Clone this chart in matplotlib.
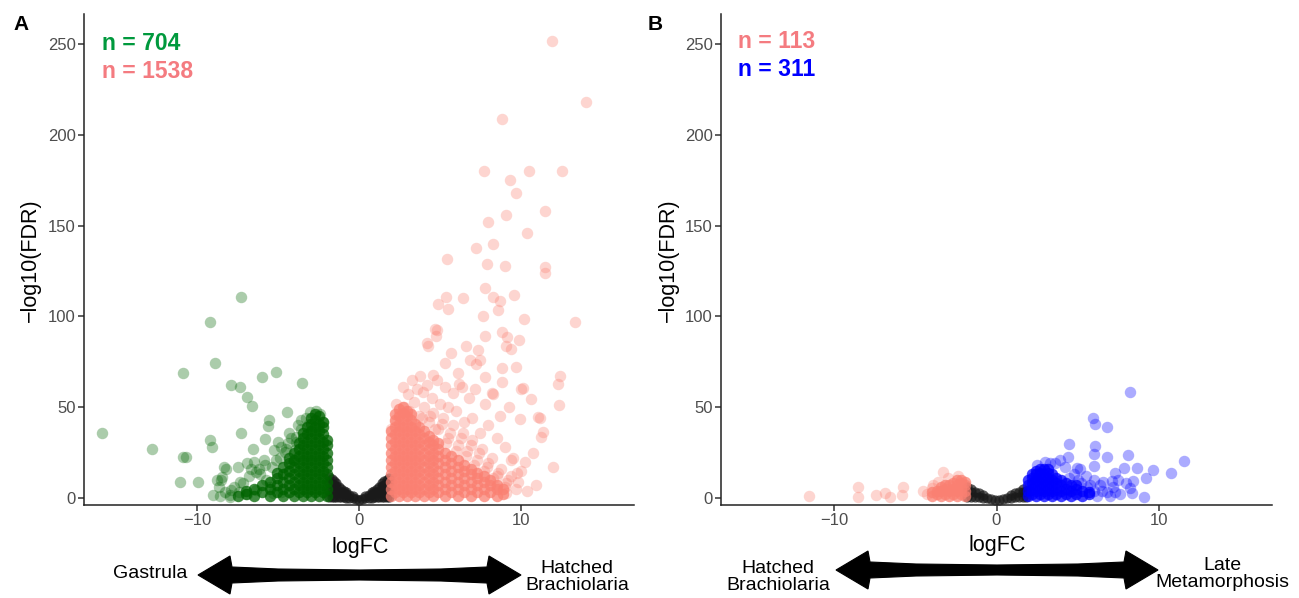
import matplotlib
matplotlib.use("Agg")
import matplotlib.pyplot as plt
from matplotlib.patches import Polygon

plt.rcParams['font.family'] = ['Liberation Sans', 'DejaVu Sans']

W, H = 1299, 598

# ================= Panel A: Gastrula vs Hatched Brachiolaria =================
# dense core of down-regulated (green) genes: column x and the y values in it
A_down_core_x = [-1.95, -2.2, -2.45, -2.7, -2.95, -3.2, -3.45, -3.7, -4.0, -4.3, -4.7, -5.1,
                 -5.5, -6.0, -6.5, -7.0, -7.5]
A_down_core_y = [
    [1, 5, 9, 13, 17, 21, 25, 29, 32],
    [3, 7, 11, 15, 19, 23, 27, 31, 35, 39, 42],
    [1, 5, 9, 13, 17, 21, 25, 29, 33, 37, 41, 45],
    [3, 7, 11, 15, 19, 23, 27, 31, 35, 39, 43, 46],
    [1, 5, 9, 13, 17, 21, 25, 29, 33, 37, 41, 44],
    [3, 7, 11, 15, 19, 23, 27, 31, 35, 39],
    [1, 5, 9, 13, 17, 21, 25, 29, 33, 36],
    [3, 7, 11, 15, 19, 23, 27, 30],
    [1, 5, 9, 13, 17, 21, 25],
    [3, 7, 11, 15, 19, 22],
    [1, 5, 9, 13, 17],
    [3, 7, 11, 14],
    [1, 5, 9],
    [3, 7],
    [1, 5],
    [2, 4],
    [1],
]
# scattered down-regulated genes
A_down_x = [-7.29, -9.21, -8.9, -10.89, -5.11, -5.97, -7.93, -7.38, -3.52, -6.91, -6.6, -4.47,
            -5.54, -5.61, -3.0, -2.65, -15.9, -12.78, -9.21, -9.09, -7.29, -10.89, -10.67, -6.56,
            -11.05, -9.94, -8.33, -7.5, -6.91, -8.8, -9.04, -7.98, -8.45, -5.8, -5.26, -8.65,
            -8.24, -8.54, -8.0, -6.35, -5.73, -6.35, -7.38, -7.9, -5.0, -5.11, -4.6, -4.08,
            -4.49, -4.8, -5.32, -3.87, -3.77, -3.98, -3.56, -4.8, -4.2, -3.3, -6.2, -6.8,
            -7.2, -5.8, -4.4, -6.5, -7.7, -8.3, -8.6, -3.1, -2.4, -2.2, -5.5, -6.9, -7.4,
            -4.9, -5.4, -6.1, -4.5, -3.9, -4.3, -5.9, -6.7, -3.6]
A_down_y = [110.6, 97, 74.5, 68.7, 69.4, 66.8, 62, 61, 63.2, 55.8, 50.7, 47.2,
            43, 39.8, 47.5, 47.9, 35.6, 27, 32, 28.3, 35.6, 22.4, 22.4, 26.8,
            9, 9, 17.2, 17.2, 19.1, 9.9, 1.7, 1.7, 11.7, 32.3, 26.4, 5.9,
            15.8, 9.9, 0.7, 14.5, 9.9, 4.4, 9, 4.4, 31, 20.9, 25.5, 20,
            13.6, 3.5, 2.6, 33.8, 40.2, 26.4, 43, 28, 33, 44, 16, 12,
            8, 18, 30, 20, 6, 3, 1, 41, 46, 42, 6, 2, 3,
            22, 17, 13, 27, 31, 36, 21, 16, 38]

# dense core of up-regulated (salmon) genes
A_up_core_x = [1.95, 2.2, 2.45, 2.7, 2.95, 3.2, 3.45, 3.7, 4.0, 4.3, 4.6, 4.9, 5.3, 5.7,
               6.1, 6.5, 6.9, 7.3, 7.7, 8.1, 8.5, 8.9]
A_up_core_y = [
    [1, 5, 9, 13, 17, 21, 25, 29, 33, 37],
    [3, 7, 11, 15, 19, 23, 27, 31, 35, 39, 43, 46],
    [1, 5, 9, 13, 17, 21, 25, 29, 33, 37, 41, 45, 49],
    [3, 7, 11, 15, 19, 23, 27, 31, 35, 39, 43, 47, 50],
    [1, 5, 9, 13, 17, 21, 25, 29, 33, 37, 41, 45, 48],
    [3, 7, 11, 15, 19, 23, 27, 31, 35, 39, 43, 46],
    [1, 5, 9, 13, 17, 21, 25, 29, 33, 37, 41],
    [3, 7, 11, 15, 19, 23, 27, 31, 35, 39],
    [1, 5, 9, 13, 17, 21, 25, 29, 33, 37],
    [3, 7, 11, 15, 19, 23, 27, 31, 34],
    [1, 5, 9, 13, 17, 21, 25, 29, 32],
    [3, 7, 11, 15, 19, 23, 27, 30],
    [1, 5, 9, 13, 17, 21, 25],
    [3, 7, 11, 15, 19, 23],
    [1, 5, 9, 13, 17, 21],
    [3, 7, 11, 15, 18],
    [1, 5, 9, 13, 16],
    [3, 7, 11, 14],
    [1, 5, 9, 12],
    [3, 7, 10],
    [1, 5, 7],
    [2, 5],
]
# scattered up-regulated genes
A_up_x = [11.9, 14.06, 8.84, 7.73, 10.5, 12.55, 9.34, 9.73, 11.48, 9.11, 8.0, 10.39,
          7.22, 8.31, 5.42, 7.9, 9.01, 11.48, 11.48, 5.4, 6.43, 4.89, 5.53, 7.77,
          8.29, 8.7, 8.58, 9.59, 7.67, 10.19, 13.34, 4.72, 4.74, 4.27, 7.77, 8.87,
          9.15, 9.9, 9.11, 9.42, 6.64, 5.71, 7.38, 5.3, 6.85, 7.26, 8.87, 9.73,
          3.75, 4.58, 6.12, 7.77, 8.87, 12.41, 12.3, 5.3, 6.39, 3.96, 10.0, 8.29,
          10.66, 12.35, 9.94, 11.18, 11.28, 12.0, 10.93, 10.76, 10.25, 11.38, 4.21, 4.8,
          9.42, 9.77, 9.06, 8.48, 11.07, 10.13, 7.45,
          2.0, 2.2, 2.5, 2.8, 2.3, 3.1, 3.4, 3.7, 4.0, 4.3, 4.6, 4.9,
          5.2, 5.5, 5.8, 6.1, 6.4, 6.7, 7.0, 7.3, 7.6, 7.9, 8.2, 8.5,
          8.8, 9.1, 9.4, 9.7, 5.0, 6.0, 7.0, 8.0, 8.5, 9.0, 7.5, 6.5,
          5.5, 4.5, 3.0, 3.6, 4.2, 9.5, 10.0, 8.7, 7.8, 6.8, 5.8, 4.8,
          6.2, 7.2, 8.2, 9.3, 3.3, 2.7,
          4.4, 5.1, 5.6, 6.3, 6.9, 7.4, 8.0, 8.6, 9.2, 3.9, 4.7, 5.4,
          6.0, 6.6, 7.1, 7.7, 8.3, 9.0, 9.8, 10.4]
A_up_y = [252, 218, 209, 180, 180, 180, 175, 168, 158, 156, 152, 146,
          138, 140, 131.5, 129, 128, 127, 124, 111, 110, 107, 104, 115.5,
          111, 108.7, 103.6, 111.7, 100, 98.8, 97, 93, 89, 84, 89, 91.6,
          88.9, 87, 83.7, 81.9, 83.7, 79.7, 81.5, 74.5, 76, 74, 71.8, 72.3,
          67, 67.8, 68.7, 66.8, 64, 67, 63, 61.3, 61.3, 58.6, 59.9, 57.3,
          54.4, 51.2, 43.4, 43.9, 33.8, 17.2, 7.2, 24.6, 20, 36.5, 85.2, 92.6,
          20.9, 13.6, 2.6, 6.2, 44.8, 60.4, 76,
          38, 42, 46, 50, 52, 48, 53, 45, 50, 42, 47, 38,
          44, 33, 40, 29, 36, 26, 32, 21, 27, 17, 22, 12,
          16, 8, 12, 5, 52, 48, 44, 40, 33, 28, 36, 42,
          50, 55, 57, 60, 62, 22, 15, 45, 52, 55, 58, 65,
          63, 60, 58, 50, 65, 61,
          45, 41, 36, 33, 29, 25, 19, 14, 10, 44, 38, 30,
          26, 23, 18, 15, 11, 6, 9, 4]

# non-significant genes (grey V)
A_ns_x = [-1.85, -1.7, -1.55, -1.4, -1.25, -1.1, -0.95, -0.8, -0.6, -0.4, -0.2, 0.0,
          0.2, 0.4, 0.6, 0.8, 0.95, 1.1, 1.25, 1.4, 1.55, 1.7, 1.85]
A_ns_y = [
    [0.5, 4, 8, 11.5], [0.5, 4, 7.5, 10.5], [0.5, 3.5, 7, 9.5], [0.5, 3.5, 6.5, 8],
    [0.5, 3, 6], [0.3, 3, 5], [0.3, 2.5, 4], [0, 2, 3], [0, 1.5], [-0.3, 0.8], [-0.6],
    [-0.9], [-0.6], [-0.3, 0.8], [0, 1.5], [0, 2, 3], [0.3, 2.5, 4], [0.3, 3, 5],
    [0.5, 3, 6], [0.5, 3.5, 6.5, 8], [0.5, 3.5, 7, 9.5], [0.5, 4, 7.5, 10], [0.5, 4, 8, 11],
]

# ================= Panel B: Hatched Brachiolaria vs Late Metamorphosis =================
B_down_core_x = [-1.95, -2.2, -2.45, -2.7, -2.95, -3.2, -3.45, -3.7, -4.0]
B_down_core_y = [[1, 4, 7, 9], [2, 5, 8, 10], [1, 4, 7, 10], [2, 5, 8], [1, 4, 7],
                 [2, 5, 7], [1, 4, 6], [2, 4], [1, 3]]
B_down_x = [-11.57, -8.52, -8.52, -7.45, -6.85, -6.59, -5.86, -5.76, -4.53, -3.3, -3.91, -4.3,
            -3.0, -2.4, -4.0, -3.6]
B_down_y = [1.1, 6.2, 0.4, 1.7, 2.9, 0.4, 1.7, 6.2, 3.9, 14.1, 7.2, 2, 11, 12, 5.5, 9]

B_up_core_x = [1.95, 2.2, 2.45, 2.7, 2.95, 3.2, 3.45, 3.7, 4.0, 4.3, 4.6, 4.9, 5.3, 5.7]
B_up_core_y = [
    [1, 4, 7, 10], [2, 5, 8, 11, 13], [1, 4, 7, 10, 13, 15], [2, 5, 8, 11, 14, 16],
    [1, 4, 7, 10, 13, 16], [2, 5, 8, 11, 14, 16], [1, 4, 7, 10, 13], [2, 5, 8, 11],
    [1, 4, 7, 10], [2, 5, 8], [1, 4, 7], [2, 5, 7], [1, 4], [2, 3],
]
B_up_x = [8.24, 5.94, 6.07, 6.83, 4.48, 6.07, 5.99, 4.4, 6.83, 8.1, 11.56, 5.99,
          5.17, 4.94, 7.86, 8.7, 9.64, 10.74, 9.2, 8.44, 7.47, 7.34, 8.24, 9.08,
          3.33, 8.0, 8.37,
          5.2, 5.6, 6.0, 6.4, 6.8, 7.2, 7.6, 6.2, 7.0, 5.5, 4.8, 4.2,
          3.6, 3.0, 2.5, 3.9, 6.6, 7.1, 6.0, 5.0, 5.8, 6.5, 7.3, 4.5]
B_up_y = [58.6, 43.9, 40.8, 39.3, 29.6, 28.8, 24.2, 22.4, 22.4, 23.7, 20.6, 17.8,
          16, 16.4, 16.4, 16.4, 15.4, 13.9, 10.8, 9.5, 9.9, 13.6, 5.7, 0.4,
          19.1, 8, 2.9,
          8, 6, 4, 7, 3, 6, 2, 1, 1, 12, 13, 17,
          19, 20, 18, 21, 9, 9.5, 10, 10, 7, 4, 3, 11]

B_ns_x = [-1.85, -1.6, -1.35, -1.1, -0.85, -0.6, -0.35, -0.1, 0.15, 0.4, 0.65, 0.9,
          1.15, 1.4, 1.65, 1.85]
B_ns_y = [[0.5, 4, 6], [0.5, 3.5, 5], [0.5, 3], [0.3, 2.5], [0, 1.5], [-0.3], [-0.6], [-0.9],
          [-0.9], [-0.6], [-0.3], [0, 1.5], [0.3, 2.5], [0.5, 3], [0.5, 3.5, 5], [0.5, 4]]

# labels
A_counts = ["n = 704", "n = 1538"]
B_counts = ["n = 113", "n = 311"]
A_ends = ["Gastrula", "Hatched\nBrachiolaria"]
B_ends = ["Hatched\nBrachiolaria", "Late\nMetamorphosis"]
x_ticks = [-10, 0, 10]
y_ticks = [0, 50, 100, 150, 200, 250]

GREEN = "#006400"
SALMON = "#FA8072"
BLUE = "#0000FF"
GREY = "#1a1a1a"


def flat(xs, ys):
    fx, fy = [], []
    for x, col in zip(xs, ys):
        for y in col:
            fx.append(x)
            fy.append(y)
    return fx, fy


def fxp(px):
    return px / W


def fyp(py):
    return 1 - py / H


fig = plt.figure(figsize=(W / 100, H / 100), dpi=100)
axA = fig.add_axes([fxp(84), fyp(505), 550 / W, 491 / H])
axB = fig.add_axes([fxp(721), fyp(505), 551 / W, 491 / H])

S = 68
CORE_A = 0.75
SC_A = 0.33


def style(ax):
    ax.set_xlim(-17.0, 17.0)
    ax.set_ylim(-3.9, 266.7)
    for s in ["top", "right"]:
        ax.spines[s].set_visible(False)
    for s in ["left", "bottom"]:
        ax.spines[s].set_linewidth(1.1)
        ax.spines[s].set_color("#222222")
    ax.set_xticks(x_ticks)
    ax.set_yticks(y_ticks)
    ax.tick_params(axis="both", length=4, width=1.1, color="#333333",
                   labelsize=12, labelcolor="#4D4D4D", pad=2)
    ax.patch.set_alpha(0)


def draw(ax, ns, dcore, dsc, ucore, usc, dcol, ucol):
    x, y = flat(*ns)
    ax.scatter(x, y, s=S * 0.8, c=GREY, alpha=0.7, linewidths=0)
    x, y = flat(*dcore)
    ax.scatter(x, y, s=S, c=dcol, alpha=CORE_A, linewidths=0)
    ax.scatter(dsc[0], dsc[1], s=S, c=dcol, alpha=SC_A, linewidths=0)
    x, y = flat(*ucore)
    ax.scatter(x, y, s=S, c=ucol, alpha=CORE_A, linewidths=0)
    ax.scatter(usc[0], usc[1], s=S, c=ucol, alpha=SC_A, linewidths=0)
    style(ax)


draw(axA, (A_ns_x, A_ns_y), (A_down_core_x, A_down_core_y), (A_down_x, A_down_y),
     (A_up_core_x, A_up_core_y), (A_up_x, A_up_y), GREEN, SALMON)
draw(axB, (B_ns_x, B_ns_y), (B_down_core_x, B_down_core_y), (B_down_x, B_down_y),
     (B_up_core_x, B_up_core_y), (B_up_x, B_up_y), SALMON, BLUE)

# axis titles
for cx, cy in [(360, 547), (997, 545)]:
    fig.text(fxp(cx), fyp(cy), "logFC", ha="center", va="center", fontsize=15.5)
for cx in [30, 668]:
    fig.text(fxp(cx), fyp(260), "\u2212log10(FDR)", ha="center", va="center",
             fontsize=15.5, rotation=90)

# panel letters
fig.text(fxp(13), fyp(25), "A", ha="left", va="center", fontsize=15, fontweight="bold")
fig.text(fxp(648), fyp(25), "B", ha="left", va="center", fontsize=15, fontweight="bold")

# counts
fig.text(fxp(102), fyp(44), A_counts[0], ha="left", va="center", fontsize=16.5,
         fontweight="bold", color="#00993D")
fig.text(fxp(102), fyp(72), A_counts[1], ha="left", va="center", fontsize=16.5,
         fontweight="bold", color="#F47B80")
fig.text(fxp(738), fyp(42), B_counts[0], ha="left", va="center", fontsize=16.5,
         fontweight="bold", color="#F47B80")
fig.text(fxp(738), fyp(70), B_counts[1], ha="left", va="center", fontsize=16.5,
         fontweight="bold", color=BLUE)


def double_arrow(L, R, cy):
    M = (L + R) / 2
    pts = [(L, cy), (L + 32, cy - 19), (L + 34, cy - 8), (L + 80, cy - 6), (M, cy - 5),
           (R - 80, cy - 6), (R - 34, cy - 8), (R - 32, cy - 19), (R, cy),
           (R - 32, cy + 19), (R - 34, cy + 8), (R - 80, cy + 6), (M, cy + 5),
           (L + 80, cy + 6), (L + 34, cy + 8), (L + 32, cy + 19)]
    poly = Polygon([(fxp(px), fyp(py)) for px, py in pts], closed=True,
                   transform=fig.transFigure, facecolor="black", edgecolor="black",
                   linewidth=0.8)
    fig.patches.append(poly)


double_arrow(198, 521, 575)
double_arrow(836, 1158, 570)

fig.text(fxp(150), fyp(574), A_ends[0], ha="center", va="center", fontsize=14)
fig.text(fxp(577), fyp(577), A_ends[1], ha="center", va="center", fontsize=14,
         linespacing=1.05)
fig.text(fxp(778), fyp(577), B_ends[0], ha="center", va="center", fontsize=14,
         linespacing=1.05)
fig.text(fxp(1222), fyp(574), B_ends[1], ha="center", va="center", fontsize=14,
         linespacing=1.05)

fig.savefig("out.png", dpi=100)
